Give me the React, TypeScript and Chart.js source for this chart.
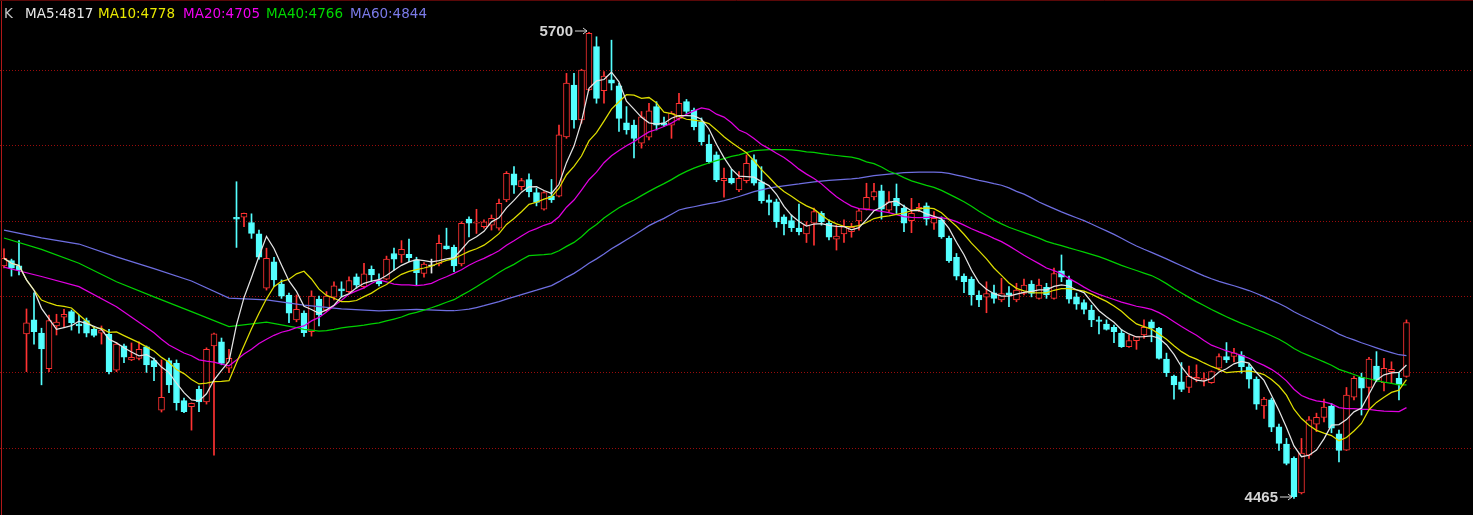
import React, { useEffect, useRef } from 'react';
import { Chart, registerables } from 'chart.js';

Chart.register(...registerables);

// ---------- data ----------
const opens = [
  5081, 5095, 5081, 4901, 4938, 4903, 4809, 4922, 4945, 4960, 4927, 4936, 4913, 4903, 4900, 4805, 4869, 4832, 4836, 4867,
  4830, 4699, 4830, 4823, 4724, 4708, 4754, 4721, 4869, 4880, 4810, 5210, 5210, 5196, 5166, 5022, 5092, 5033, 5004, 4938,
  4956, 4907, 4993, 4964, 4998, 5020, 5013, 5052, 5026, 5072, 5042, 5046, 5114, 5110, 5112, 5097, 5061, 5081, 5086, 5134,
  5130, 5086, 5205, 5194, 5185, 5189, 5181, 5256, 5325, 5291, 5310, 5275, 5231, 5266, 5266, 5423, 5560, 5468, 5547, 5662,
  5545, 5574, 5558, 5460, 5454, 5406, 5422, 5503, 5460, 5454, 5472, 5516, 5494, 5463, 5404, 5375, 5307, 5313, 5282, 5307,
  5363, 5304, 5256, 5251, 5211, 5201, 5181, 5166, 5194, 5220, 5194, 5152, 5166, 5172, 5200, 5231, 5264, 5280, 5229, 5260,
  5234, 5201, 5231, 5240, 5194, 5203, 5154, 5104, 5054, 5046, 5004, 4998, 5010, 4991, 5010, 4991, 5008, 5033, 4995, 5024,
  4995, 5068, 5044, 4999, 4984, 4964, 4938, 4927, 4918, 4903, 4867, 4883, 4898, 4933, 4916, 4834, 4789, 4774, 4759, 4781,
  4779, 4772, 4810, 4841, 4841, 4845, 4814, 4781, 4710, 4726, 4655, 4609, 4571, 4480, 4580, 4662, 4680, 4710, 4636, 4593,
  4733, 4786, 4759, 4816, 4772, 4801, 4783, 4788,
];
const highs = [
  5126, 5099, 5148, 4967, 5010, 4916, 4951, 4953, 4966, 4964, 4951, 4943, 4920, 4922, 4913, 4878, 4874, 4877, 4880, 4869,
  4837, 4832, 4837, 4832, 4731, 4718, 4763, 4864, 4903, 4890, 4860, 5304, 5221, 5219, 5176, 5128, 5104, 5044, 5009, 5004,
  4962, 5015, 5001, 5013, 5039, 5039, 5052, 5060, 5088, 5081, 5060, 5107, 5128, 5148, 5152, 5104, 5090, 5099, 5163, 5181,
  5136, 5198, 5211, 5231, 5203, 5216, 5258, 5331, 5344, 5313, 5325, 5287, 5278, 5310, 5454, 5591, 5591, 5602, 5700, 5688,
  5596, 5679, 5565, 5503, 5467, 5490, 5512, 5516, 5475, 5490, 5538, 5522, 5499, 5473, 5428, 5383, 5340, 5337, 5331, 5375,
  5375, 5344, 5269, 5258, 5216, 5216, 5245, 5198, 5234, 5225, 5203, 5189, 5203, 5194, 5231, 5300, 5300, 5295, 5278, 5298,
  5242, 5260, 5247, 5248, 5225, 5211, 5160, 5114, 5060, 5052, 5015, 5039, 5030, 5048, 5026, 5035, 5046, 5042, 5046, 5035,
  5075, 5110, 5054, 5009, 4991, 4977, 4947, 4938, 4924, 4913, 4898, 4894, 4938, 4938, 4918, 4850, 4792, 4825, 4816, 4819,
  4798, 4803, 4848, 4878, 4863, 4854, 4821, 4787, 4733, 4731, 4662, 4624, 4575, 4624, 4682, 4691, 4728, 4717, 4646, 4759,
  4789, 4797, 4839, 4854, 4836, 4827, 4798, 4938,
];
const lows = [
  5076, 5054, 5057, 4801, 4874, 4766, 4801, 4898, 4920, 4911, 4903, 4893, 4893, 4874, 4795, 4801, 4825, 4830, 4832, 4799,
  4777, 4694, 4745, 4699, 4692, 4646, 4695, 4715, 4580, 4819, 4798, 5130, 5185, 5154, 5099, 5017, 5026, 4995, 4931, 4933,
  4894, 4895, 4922, 4960, 4991, 4999, 5010, 5022, 5022, 5039, 5028, 5044, 5070, 5090, 5092, 5030, 5051, 5062, 5081, 5125,
  5066, 5081, 5158, 5167, 5181, 5176, 5176, 5251, 5273, 5282, 5264, 5240, 5229, 5249, 5264, 5419, 5446, 5459, 5545, 5512,
  5512, 5547, 5437, 5430, 5367, 5393, 5415, 5441, 5450, 5419, 5467, 5485, 5441, 5401, 5353, 5304, 5263, 5298, 5278, 5301,
  5295, 5247, 5216, 5183, 5163, 5172, 5163, 5143, 5136, 5189, 5150, 5123, 5143, 5157, 5176, 5229, 5256, 5205, 5225, 5220,
  5172, 5169, 5225, 5189, 5178, 5154, 5090, 5044, 5010, 4977, 4973, 4957, 4982, 4986, 4973, 4986, 5004, 4999, 4993, 4995,
  4993, 5039, 4982, 4966, 4954, 4920, 4901, 4911, 4878, 4865, 4865, 4860, 4889, 4880, 4834, 4788, 4728, 4748, 4745, 4774,
  4763, 4770, 4805, 4825, 4827, 4797, 4757, 4701, 4677, 4642, 4592, 4554, 4465, 4477, 4571, 4642, 4668, 4639, 4562, 4592,
  4726, 4686, 4704, 4774, 4750, 4770, 4726, 4786,
];
const closes = [
  5101, 5075, 5070, 4930, 4907, 4861, 4936, 4932, 4953, 4931, 4922, 4903, 4897, 4911, 4801, 4874, 4839, 4839, 4860, 4819,
  4814, 4733, 4766, 4719, 4695, 4717, 4721, 4860, 4901, 4823, 4836, 5205, 5220, 5167, 5104, 5101, 5044, 5001, 4956, 4966,
  4904, 5001, 4951, 5001, 5028, 5015, 5042, 5030, 5060, 5057, 5033, 5099, 5099, 5125, 5103, 5063, 5086, 5081, 5141, 5126,
  5081, 5194, 5194, 5196, 5198, 5207, 5247, 5326, 5295, 5307, 5278, 5249, 5275, 5256, 5428, 5565, 5468, 5600, 5697, 5525,
  5584, 5565, 5472, 5441, 5419, 5476, 5492, 5454, 5454, 5485, 5512, 5490, 5450, 5410, 5357, 5309, 5313, 5301, 5313, 5353,
  5300, 5254, 5249, 5198, 5192, 5182, 5172, 5189, 5225, 5198, 5157, 5160, 5185, 5183, 5227, 5263, 5278, 5231, 5251, 5240,
  5194, 5220, 5236, 5205, 5207, 5158, 5095, 5054, 5039, 5004, 4991, 5008, 4995, 5008, 5004, 5017, 5030, 5008, 5030, 5004,
  5061, 5051, 4993, 4980, 4966, 4938, 4934, 4913, 4907, 4867, 4883, 4894, 4918, 4916, 4836, 4798, 4766, 4754, 4789, 4786,
  4783, 4801, 4841, 4832, 4851, 4814, 4781, 4715, 4728, 4654, 4611, 4558, 4470, 4585, 4673, 4680, 4707, 4651, 4592, 4739,
  4783, 4757, 4834, 4779, 4810, 4807, 4766, 4931,
];

// Moving-average values for the first candles (one every 5 candles),
// before enough closes exist in the window to compute them.
const ma20Lead = [5078, 5053, 5026, 4973];
const ma40Lead = [5155, 5125, 5088, 5039, 4999, 4960, 4920, 4932];
const ma60Lead = [5176, 5155, 5139, 5105, 5074, 5041, 4996, 4991, 4977, 4967, 4962, 4966];

const maNames = ['MA5', 'MA10', 'MA20', 'MA40', 'MA60'];
const maPeriods = [5, 10, 20, 40, 60];
const maLegendValues = [4817, 4778, 4705, 4766, 4844];
const gridValues = [4600, 4800, 5000, 5200, 5400, 5600];
const priceMin = 4421.2;
const priceMax = 5785.4;

// ---------- styles ----------
const UP = '#ff3232';
const DOWN = '#54ffff';
const FLAT = '#e8e8e8';
const maColors = ['#e4e4e4', '#dede00', '#e000e0', '#00d000', '#6e6ee0'];
const legendColors = ['#e8e8e8', '#e8e800', '#f000f0', '#00d800', '#7a7ae8'];

function movingAverage(period: number, lead: number[] | null): (number | null)[] {
  const out: (number | null)[] = [];
  for (let i = 0; i < closes.length; i++) {
    if (i >= period - 1) {
      let s = 0;
      for (let k = i - period + 1; k <= i; k++) s += closes[k];
      out.push(s / period);
    } else if (lead) {
      out.push(i % 5 === 0 && lead[i / 5] !== undefined ? lead[i / 5] : null);
    } else {
      let s = 0;
      for (let k = 0; k <= i; k++) s += closes[k];
      out.push(s / (i + 1));
    }
  }
  return out;
}

const leads: (number[] | null)[] = [null, null, ma20Lead, ma40Lead, ma60Lead];

export default function App() {
  const canvasRef = useRef<HTMLCanvasElement | null>(null);

  useEffect(() => {
    document.body.style.margin = '0';
    document.body.style.background = '#000';
    const canvas = canvasRef.current;
    if (!canvas) return;

    const n = closes.length;
    const dir = closes.map((c, i) => (c > opens[i] ? 1 : c < opens[i] ? -1 : 0));
    const col = dir.map((d) => (d > 0 ? UP : d < 0 ? DOWN : FLAT));

    const wickData = highs.map((h, i) => ({ x: i, y: [lows[i], h] }));
    const bodyData = opens.map((o, i) => ({ x: i, y: [o, closes[i]] }));

    const maDatasets = maPeriods.map((p, k) => ({
      type: 'line' as const,
      label: maNames[k],
      data: movingAverage(p, leads[k]).map((v, i) => ({ x: i, y: v })),
      borderColor: maColors[k],
      backgroundColor: maColors[k],
      borderWidth: 1.25,
      pointRadius: 0,
      tension: 0,
      spanGaps: true,
      order: 0,
    }));

    let hiIdx = 0;
    let loIdx = 0;
    for (let i = 0; i < n; i++) {
      if (highs[i] > highs[hiIdx]) hiIdx = i;
      if (lows[i] < lows[loIdx]) loIdx = i;
    }

    const decor = {
      id: 'decor',
      beforeDraw(chart: any) {
        const { ctx, width, height } = chart;
        ctx.save();
        ctx.fillStyle = '#000';
        ctx.fillRect(0, 0, width, height);
        ctx.restore();
      },
      beforeDatasetsDraw(chart: any) {
        const { ctx, width } = chart;
        const ys = chart.scales.y;
        ctx.save();
        ctx.strokeStyle = '#9a0c0c';
        ctx.lineWidth = 1;
        ctx.setLineDash([1, 2]);
        gridValues.forEach((v) => {
          const y = Math.round(ys.getPixelForValue(v)) + 0.5;
          ctx.beginPath();
          ctx.moveTo(0, y);
          ctx.lineTo(width, y);
          ctx.stroke();
        });
        ctx.restore();
      },
      afterDraw(chart: any) {
        const { ctx, width, height } = chart;
        const xs = chart.scales.x;
        const ys = chart.scales.y;
        ctx.save();
        // frame
        ctx.strokeStyle = '#b01818';
        ctx.lineWidth = 1;
        ctx.beginPath();
        ctx.moveTo(1.5, 0);
        ctx.lineTo(1.5, height);
        ctx.stroke();
        ctx.strokeStyle = '#5a0808';
        ctx.beginPath();
        ctx.moveTo(0, 0.5);
        ctx.lineTo(width, 0.5);
        ctx.stroke();

        // legend
        ctx.font = '13.5px "DejaVu Sans", sans-serif';
        ctx.textBaseline = 'alphabetic';
        ctx.textAlign = 'left';
        ctx.fillStyle = '#c8c8c8';
        ctx.fillText('K', 4, 17.5);
        const lx = [25, 98, 183, 266, 350];
        maNames.forEach((nm, k) => {
          ctx.fillStyle = legendColors[k];
          ctx.fillText(nm + ':' + maLegendValues[k], lx[k], 17.5);
        });

        // extreme markers
        const mark = (idx: number, value: number) => {
          const px = xs.getPixelForValue(idx);
          const py = Math.round(ys.getPixelForValue(value)) - 1.5;
          ctx.fillStyle = '#d4d4d4';
          ctx.strokeStyle = '#d4d4d4';
          ctx.font = 'bold 15px "Liberation Sans", Arial, sans-serif';
          ctx.textAlign = 'right';
          ctx.textBaseline = 'middle';
          ctx.fillText(String(value), px - 16, py + 1);
          ctx.lineWidth = 1;
          ctx.beginPath();
          ctx.moveTo(px - 14, py + 0.5);
          ctx.lineTo(px - 2, py + 0.5);
          ctx.moveTo(px - 6, py - 2.5);
          ctx.lineTo(px - 2, py + 0.5);
          ctx.lineTo(px - 6, py + 3.5);
          ctx.stroke();
        };
        mark(hiIdx, highs[hiIdx]);
        mark(loIdx, lows[loIdx]);
        ctx.restore();
      },
    };

    const chart = new Chart(canvas, {
      type: 'bar',
      data: {
        datasets: [
          ...maDatasets,
          {
            type: 'bar' as const,
            label: 'body',
            data: bodyData as any,
            backgroundColor: dir.map((d) => (d > 0 ? '#000' : d < 0 ? DOWN : FLAT)),
            borderColor: col,
            borderWidth: 1,
            borderSkipped: false,
            barThickness: 6,
            minBarLength: 1,
            grouped: false,
            order: 1,
          } as any,
          {
            type: 'bar' as const,
            label: 'wick',
            data: wickData as any,
            backgroundColor: col,
            borderWidth: 0,
            barThickness: 1,
            grouped: false,
            order: 2,
          } as any,
        ],
      },
      options: {
        animation: false,
        responsive: true,
        maintainAspectRatio: false,
        layout: { padding: 0 },
        plugins: { legend: { display: false }, tooltip: { enabled: false } },
        events: [],
        scales: {
          x: { type: 'linear', display: false, min: -0.533, max: 195.87, offset: false },
          y: { display: false, min: priceMin, max: priceMax },
        },
      },
      plugins: [decor],
    } as any);

    return () => chart.destroy();
  }, []);

  return (
    <div style={{ width: '1473px', height: '515px', position: 'relative', background: '#000' }}>
      <canvas ref={canvasRef} />
    </div>
  );
}
